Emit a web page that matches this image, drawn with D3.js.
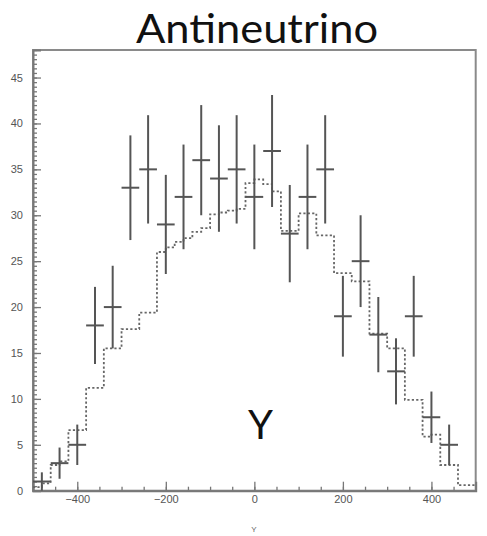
<!DOCTYPE html>
<html>
<head>
<meta charset="utf-8">
<script src="https://cdn.jsdelivr.net/npm/d3@7"></script>
<style>
  html, body { margin: 0; padding: 0; background: #fff; }
  svg { display: block; }
</style>
</head>
<body>
<div id="chart"></div>
<script>
// data points (bin centres, counts, errors)
const binCenters = [-480, -440, -400, -360, -320, -280, -240, -200, -160, -120, -80, -40,
                    0, 40, 80, 120, 160, 200, 240, 280, 320, 360, 400, 440];
const counts = [1, 3, 5, 18, 20, 33, 35, 29, 32, 36, 34, 35,
                32, 37, 28, 32, 35, 19, 25, 17, 13, 19, 8, 5];
const errors = [1.0, 1.7, 2.2, 4.2, 4.5, 5.7, 5.9, 5.4, 5.7, 6.0, 5.8, 5.9,
                5.7, 6.1, 5.3, 5.7, 5.9, 4.4, 5.0, 4.1, 3.6, 4.4, 2.8, 2.2];
const binHalfWidth = 20;

// simulation histogram (dashed), lower bin edges and heights
const mcEdges = [-500, -480, -460, -440, -420, -400, -380, -360, -340, -320, -300, -280, -260, -240,
                 -220, -200, -180, -160, -140, -120, -100, -80, -60, -40, -20,
                 0, 20, 40, 60, 80, 100, 120, 140, 160, 180, 200, 220, 240,
                 260, 280, 300, 320, 340, 360, 380, 400, 420, 440, 460, 480];
const mcValues = [0.4, 0.8, 2.8, 3.2, 6.6, 6.6, 11.2, 11.2, 15.5, 15.5, 17.6, 17.6, 19.4, 19.4,
                  26.0, 26.5, 27.1, 27.5, 28.2, 28.6, 30.1, 30.3, 30.5, 30.7, 33.5,
                  33.9, 33.4, 32.6, 28.3, 28.3, 30.2, 30.2, 27.8, 27.8, 23.7, 23.7, 22.8, 22.8,
                  17.1, 17.1, 15.5, 15.5, 9.9, 9.9, 5.9, 6.1, 2.8, 2.8, 0.6, 0.6];
const xMax = 500;

const xTickLabels = [-400, -200, 0, 200, 400];
const yTickLabels = [0, 5, 10, 15, 20, 25, 30, 35, 40, 45];

const W = 487, H = 536;
const plotLeft = 33, plotTop = 50, plotRight = 475.7, plotBottom = 490.7;

const svg = d3.select("#chart").append("svg")
    .attr("width", W)
    .attr("height", H);

const x = d3.scaleLinear().domain([-500, 500]).range([plotLeft, plotRight]);
const y = d3.scaleLinear().domain([0, 48]).range([plotBottom, plotTop]);

// title
svg.append("text")
    .attr("x", 257)
    .attr("y", 43)
    .attr("text-anchor", "middle")
    .attr("font-family", "Lato, 'Open Sans', sans-serif")
    .attr("font-size", 40)
    .attr("fill", "#111")
    .attr("textLength", 242)
    .attr("lengthAdjust", "spacingAndGlyphs")
    .text("Antineutrino");

// frame
svg.append("rect")
    .attr("x", plotLeft)
    .attr("y", plotTop)
    .attr("width", plotRight - plotLeft)
    .attr("height", plotBottom - plotTop)
    .attr("fill", "none")
    .attr("stroke", "#8a8a8a")
    .attr("stroke-width", 2);

// axes
const tickColor = "#777";

const yMinor = svg.append("g")
    .attr("transform", `translate(${plotLeft},0)`)
    .call(d3.axisLeft(y).tickValues(d3.range(0, 48.01, 0.5)).tickSize(-4).tickFormat(""));
yMinor.select(".domain").remove();

const yAxis = svg.append("g")
    .attr("transform", `translate(${plotLeft},0)`)
    .call(d3.axisLeft(y).tickValues(yTickLabels).tickSize(-8).tickPadding(10));

const xMinor = svg.append("g")
    .attr("transform", `translate(0,${plotBottom})`)
    .call(d3.axisBottom(x).tickValues(d3.range(-450, 500, 50)).tickSize(-4).tickFormat(""));
xMinor.select(".domain").remove();

const xAxis = svg.append("g")
    .attr("transform", `translate(0,${plotBottom})`)
    .call(d3.axisBottom(x).tickValues(xTickLabels).tickSize(-9).tickPadding(5));

svg.selectAll(".tick line").attr("stroke", tickColor).attr("stroke-width", 1.3);
svg.selectAll(".domain").attr("stroke", "#777").attr("stroke-width", 2);
svg.selectAll(".tick text")
    .attr("font-family", "'Liberation Sans', Arial, sans-serif")
    .attr("font-size", 11)
    .attr("fill", "#555");

// dashed simulation histogram
const mcPoints = mcEdges.map((e, i) => [e, mcValues[i]]);
mcPoints.push([xMax, mcValues[mcValues.length - 1]]);

const stepLine = d3.line()
    .x(d => x(d[0]))
    .y(d => y(d[1]))
    .curve(d3.curveStepAfter);

svg.append("path")
    .datum(mcPoints)
    .attr("d", stepLine)
    .attr("fill", "none")
    .attr("stroke", "#666")
    .attr("stroke-width", 1.8)
    .attr("stroke-dasharray", "2.2,2.2");

// data points with error bars
const pts = svg.append("g")
    .selectAll("g")
    .data(binCenters.map((c, i) => ({ c, n: counts[i], e: errors[i] })))
    .enter().append("g");

pts.append("line")
    .attr("x1", d => x(d.c))
    .attr("x2", d => x(d.c))
    .attr("y1", d => y(d.n + d.e))
    .attr("y2", d => y(Math.max(0, d.n - d.e)))
    .attr("stroke", "#555")
    .attr("stroke-width", 2);

pts.append("line")
    .attr("x1", d => x(d.c - binHalfWidth))
    .attr("x2", d => x(d.c + binHalfWidth))
    .attr("y1", d => y(d.n))
    .attr("y2", d => y(d.n))
    .attr("stroke", "#555")
    .attr("stroke-width", 2);

// big label inside the plot
svg.append("text")
    .attr("x", 260.5)
    .attr("y", 439)
    .attr("text-anchor", "middle")
    .attr("font-family", "Lato, 'Open Sans', sans-serif")
    .attr("font-size", 40)
    .attr("fill", "#111")
    .text("Y");

// x axis title
svg.append("text")
    .attr("x", 254)
    .attr("y", 532)
    .attr("text-anchor", "middle")
    .attr("font-family", "'Liberation Sans', Arial, sans-serif")
    .attr("font-size", 8)
    .attr("fill", "#666")
    .text("Y");
</script>
</body>
</html>
